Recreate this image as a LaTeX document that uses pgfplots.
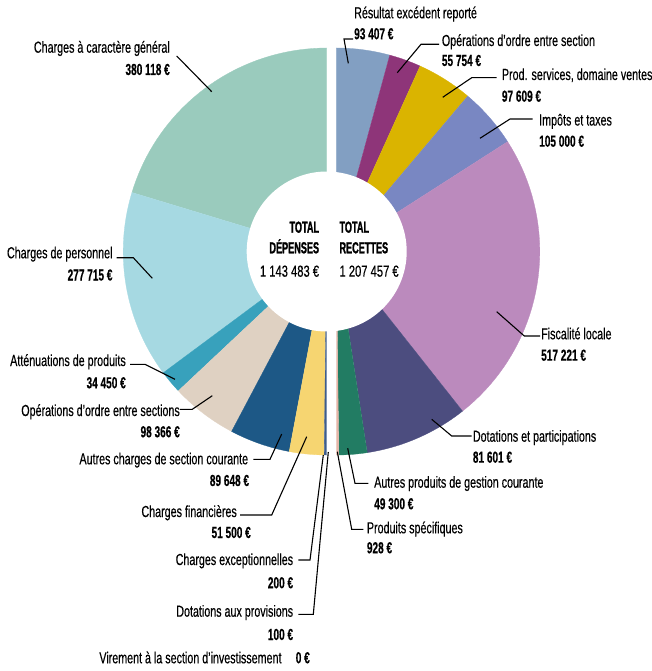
\documentclass[border=0pt]{standalone}
\usepackage{pgfplots}
\pgfplotsset{compat=1.18}
\usepackage{fontspec}
\setmainfont{Liberation Sans}[FakeStretch=0.67, FakeBold=0.4]
\newfontfamily\valfont{Liberation Sans}[FakeStretch=0.63, FakeBold=0.3]
\newfontfamily\totfont{Liberation Sans}[FakeStretch=0.57, FakeBold=1.2]
\newfontfamily\numfont{Liberation Sans}[FakeStretch=0.70, FakeBold=0.4]

\definecolor{cmint}{HTML}{9ACBBD}
\definecolor{clblue}{HTML}{A6D9E2}
\definecolor{cteal}{HTML}{38A1BC}
\definecolor{cbeige}{HTML}{DFD1C2}
\definecolor{cdblue}{HTML}{1D5886}
\definecolor{cyel}{HTML}{F6D571}
\definecolor{cstrip}{HTML}{3D5C8C}
\definecolor{cres}{HTML}{829FC2}
\definecolor{cmag}{HTML}{8E3579}
\definecolor{cgold}{HTML}{DAB400}
\definecolor{cimp}{HTML}{7987C2}
\definecolor{cfis}{HTML}{BB8ABD}
\definecolor{cdot}{HTML}{4C4D7F}
\definecolor{cgreen}{HTML}{227C63}
\definecolor{cpink}{HTML}{E5B4A6}

\def\R{203.5}
\def\cy{251.5}
\newcommand{\curang}{-90}
% #1 centre x, #2 angle increment (expression from the value), #3 colour
\newcommand{\pslice}[3]{%
  \begingroup
  \pgfkeys{/pgf/fpu=true,/pgf/fpu/output format=fixed}%
  \pgfmathparse{\curang+(#2)}%
  \xdef\nextang{\pgfmathresult}%
  \endgroup
  \edef\doslice{\noexpand\addplot[draw=#3, line width=0.3pt, fill=#3,
     samples at={-1,0,1,...,40}, variable=\noexpand\t]
     ({\noexpand\t<0 ? #1 : #1+\R*cos(\curang+((\nextang)-(\curang))*\noexpand\t/40)},
      {\noexpand\t<0 ? \cy : \cy+\R*sin(\curang+((\nextang)-(\curang))*\noexpand\t/40)});}%
  \doslice
  \xdef\curang{\nextang}}

\tikzset{
  lab/.style={font=\fontsize{16}{19}\selectfont, inner sep=0pt},
  val/.style={font=\valfont\bfseries\fontsize{16}{19}\selectfont, inner sep=0pt},
  tot/.style={font=\totfont\bfseries\fontsize{16}{19}\selectfont, inner sep=0pt},
  totn/.style={font=\numfont\fontsize{16}{19}\selectfont, inner sep=0pt},
  ld/.style={line width=1.1pt, black}
}

\begin{document}
\begin{tikzpicture}
\begin{axis}[name=ax, width=651pt, height=671pt, scale only axis,
  xmin=0, xmax=651, ymin=0, ymax=671, y dir=reverse,
  hide axis, clip=false, enlargelimits=false]

% ---- Dépenses (left half) : values in euros, total of the plotted values 931797
\xdef\curang{-90}
\pslice{326.7}{-380118/931797*179.3}{cmint}   % Charges à caractère général
\pslice{326.7}{-277715/931797*179.3}{clblue}  % Charges de personnel
\pslice{326.7}{-34450/931797*179.3}{cteal}    % Atténuations de produits
\pslice{326.7}{-98366/931797*179.3}{cbeige}   % Opérations d'ordre entre sections
\pslice{326.7}{-89648/931797*179.3}{cdblue}   % Autres charges de section courante
\pslice{326.7}{-51500/931797*179.3}{cyel}     % Charges financières
\pslice{326.7}{-0.7}{cstrip}                  % Charges exceptionnelles + provisions (thin)

% ---- Recettes (right half)
\xdef\curang{-90}
\pslice{336.3}{93407/1099892*179.3}{cres}     % Résultat excédent reporté
\pslice{336.3}{55754/1099892*179.3}{cmag}     % Opérations d'ordre entre section
\pslice{336.3}{97609/1099892*179.3}{cgold}    % Prod. services, domaine ventes
\pslice{336.3}{105000/1099892*179.3}{cimp}    % Impôts et taxes
\pslice{336.3}{517221/1099892*179.3}{cfis}    % Fiscalité locale
\pslice{336.3}{181601/1099892*179.3}{cdot}    % Dotations et participations
\pslice{336.3}{49300/1099892*179.3}{cgreen}   % Autres produits de gestion courante
\pslice{336.3}{0.7}{cpink}                    % Produits spécifiques (thin)

% hole
\addplot[draw=none, fill=white, domain=0:360, samples=120]
  ({326.7+80*cos(x)},{251.5+80*sin(x)});

% ---- centre texts
\node[tot, anchor=base east] at (319.3,232.7) {TOTAL};
\node[tot, anchor=base east] at (319.3,253.3) {DÉPENSES};
\node[totn, anchor=base east] at (319.3,276.7) {1~143~483~€};
\node[tot, anchor=base west] at (339.3,232.7) {TOTAL};
\node[tot, anchor=base west] at (339.3,253.3) {RECETTES};
\node[totn, anchor=base west] at (339.3,276.7) {1~207~457~€};

% ---- left labels
\node[lab, anchor=base east] at (170,52.7) {Charges à caractère général};
\node[val, anchor=base east] at (170,75) {380~118~€};
\draw[ld] (176.7,56) -- (211.7,91.7);

\node[lab, anchor=base east] at (112.7,258.3) {Charges de personnel};
\node[val, anchor=base east] at (112.7,280.5) {277~715~€};
\draw[ld] (116.7,257.7) -- (133.3,257.7) -- (152.3,278.3);

\node[lab, anchor=base east] at (126,366) {Atténuations de produits};
\node[val, anchor=base east] at (126,388.3) {34~450~€};
\draw[ld] (130,364.3) -- (145,364.3) -- (175,379.3);

\node[lab, anchor=base east] at (180,416) {Opérations d'ordre entre sections};
\node[val, anchor=base east] at (180,437.3) {98~366~€};
\draw[ld] (180,409.3) -- (192.3,409.3) -- (212.3,395.7);

\node[lab, anchor=base east] at (248.3,464.3) {Autres charges de section courante};
\node[val, anchor=base east] at (249.3,486) {89~648~€};
\draw[ld] (253.3,459.3) -- (270,459.3) -- (281.7,434);

\node[lab, anchor=base east] at (237,517) {Charges financières};
\node[val, anchor=base east] at (251,538) {51~500~€};
\draw[ld] (240,515) -- (271.7,515) -- (306.7,436.7);

\node[lab, anchor=base east] at (293.3,565) {Charges exceptionnelles};
\node[val, anchor=base east] at (293.3,588.3) {200~€};
\draw[ld] (298.3,560) -- (310,560) -- (323.3,455);

\node[lab, anchor=base east] at (293.3,616.7) {Dotations aux provisions};
\node[val, anchor=base east] at (293.3,640) {100~€};
\draw[ld] (298.3,614.3) -- (313.3,614.3) -- (328.3,452);

\node[lab, anchor=base east] at (281.7,663.3) {Virement à la section d'investissement};
\node[val, anchor=base east] at (310,663.3) {0~€};

% ---- right labels
\node[lab, anchor=base west] at (354,18.3) {Résultat excédent reporté};
\node[val, anchor=base west] at (354,39.3) {93~407~€};
\draw[ld] (353,39) -- (344,39) -- (348.3,63.3);

\node[lab, anchor=base west] at (441.7,46) {Opérations d'ordre entre section};
\node[val, anchor=base west] at (441.7,66) {55~754~€};
\draw[ld] (439,44.3) -- (421,44.3) -- (397.3,72.7);

\node[lab, anchor=base west] at (501.7,80) {Prod. services, domaine ventes};
\node[val, anchor=base west] at (501.7,101.7) {97~609~€};
\draw[ld] (496.7,77.7) -- (471.7,77.7) -- (442.7,97.3);

\node[lab, anchor=base west] at (539,125.5) {Impôts et taxes};
\node[val, anchor=base west] at (539,146.7) {105~000~€};
\draw[ld] (532.7,119) -- (510,119) -- (480,138.3);

\node[lab, anchor=base west] at (541,339.3) {Fiscalité locale};
\node[val, anchor=base west] at (541,360.7) {517~221~€};
\draw[ld] (540,336) -- (524.3,336) -- (496.7,311.7);

\node[lab, anchor=base west] at (472.7,441.7) {Dotations et participations};
\node[val, anchor=base west] at (472.7,462.7) {81~601~€};
\draw[ld] (471.7,436) -- (451.7,436) -- (431.7,419.3);

\node[lab, anchor=base west] at (374,487.7) {Autres produits de gestion courante};
\node[val, anchor=base west] at (374,509.3) {49~300~€};
\draw[ld] (368.3,483.3) -- (355,483.3) -- (347.7,448.3);

\node[lab, anchor=base west] at (366.7,533.3) {Produits spécifiques};
\node[val, anchor=base west] at (366.7,553.3) {928~€};
\draw[ld] (363.3,529.3) -- (351.7,529.3) -- (337.3,451.7);

\end{axis}
\pgfresetboundingbox
\path[use as bounding box] (ax.south west) rectangle (ax.north east);
\end{tikzpicture}
\end{document}
